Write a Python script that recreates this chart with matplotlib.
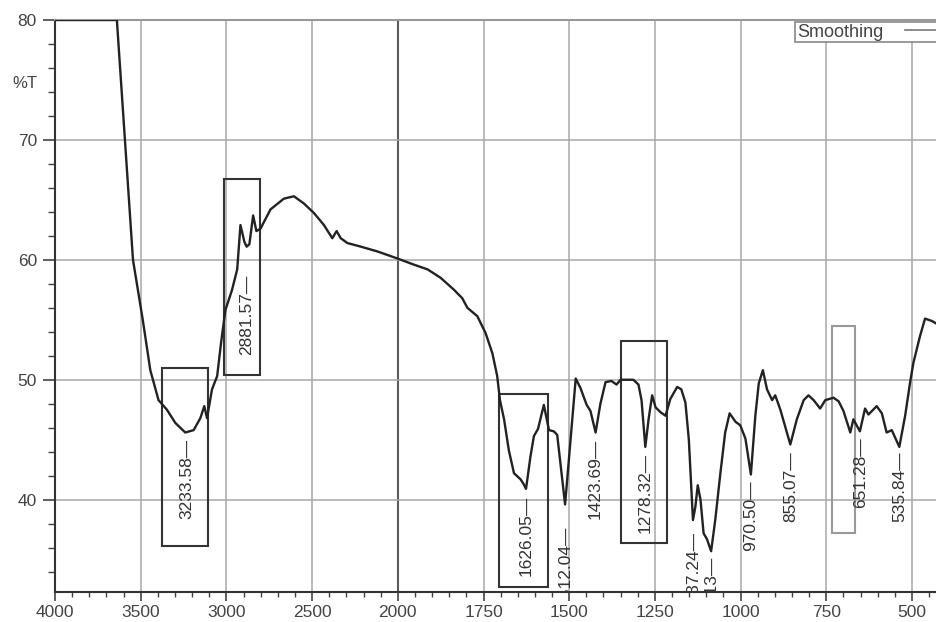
# ftir_spectrum.py
# FTIR transmittance spectrum with marked peaks

import numpy as np
import matplotlib.pyplot as plt
from matplotlib.patches import Rectangle

# -------------------------
# Data
# -------------------------
wavenumber = [
    4000, 3639, 3596, 3545, 3488, 3444, 3396, 3347, 3298, 3240, 3191, 3152,
    3129, 3113, 3084, 3054, 3031, 3006, 2967, 2937, 2918, 2895, 2882, 2866,
    2844, 2825, 2801, 2743, 2665, 2606, 2548, 2489, 2431, 2382, 2357, 2333,
    2294, 2216, 2119, 2000, 1953, 1913, 1875, 1836, 1812, 1797, 1768, 1744,
    1724, 1710, 1702, 1690, 1676, 1661, 1642, 1633, 1626, 1613, 1603, 1591,
    1574, 1559, 1545, 1535, 1512, 1496, 1481, 1467, 1449, 1438, 1423, 1409,
    1394, 1377, 1362, 1350, 1330, 1313, 1298, 1289, 1278, 1268, 1258, 1248,
    1234, 1219, 1205, 1185, 1173, 1161, 1151, 1139, 1132, 1125, 1117, 1108,
    1098, 1086, 1074, 1059, 1045, 1032, 1015, 1001, 986, 970, 957, 947,
    935, 923, 908, 899, 884, 870, 855, 836, 816, 802, 787, 768,
    753, 729, 714, 700, 680, 671, 652, 637, 627, 603, 588, 574,
    559, 537, 520, 506, 496, 477, 462, 442, 430,
]
transmittance = [
    80.0, 80.0, 70.8, 60.0, 55.0, 50.8, 48.3, 47.5, 46.4, 45.6, 45.8, 46.8,
    47.8, 46.8, 49.2, 50.3, 53.1, 55.8, 57.5, 59.2, 62.9, 61.5, 61.1, 61.3,
    63.7, 62.4, 62.6, 64.2, 65.1, 65.3, 64.7, 63.9, 62.9, 61.8, 62.4, 61.8,
    61.4, 61.1, 60.7, 60.1, 59.6, 59.2, 58.5, 57.5, 56.8, 56.0, 55.3, 53.9,
    52.2, 50.3, 48.3, 46.7, 44.1, 42.2, 41.7, 41.3, 40.9, 43.6, 45.3, 45.9,
    47.9, 45.8, 45.7, 45.4, 39.6, 45.0, 50.1, 49.3, 47.9, 47.4, 45.6, 48.0,
    49.8, 49.9, 49.6, 50.0, 50.0, 50.0, 49.6, 48.3, 44.4, 46.8, 48.7, 47.7,
    47.3, 47.0, 48.4, 49.4, 49.2, 48.1, 45.0, 38.3, 39.4, 41.2, 40.0, 37.2,
    36.7, 35.7, 38.3, 42.2, 45.6, 47.2, 46.5, 46.2, 45.1, 42.1, 47.0, 49.7,
    50.8, 49.2, 48.3, 48.7, 47.5, 46.1, 44.6, 46.7, 48.3, 48.7, 48.3, 47.6,
    48.3, 48.5, 48.2, 47.4, 45.6, 46.7, 45.7, 47.6, 47.1, 47.8, 47.2, 45.6,
    45.8, 44.4, 47.0, 49.7, 51.4, 53.6, 55.1, 54.9, 54.7,
]

peak_wn = [3233.58, 2881.57, 1626.05, 1512.04, 1423.69, 1278.32,
           1137.24, 1086.13, 970.50, 855.07, 651.28, 535.84]

# marked regions: wavenumber range and %T range
box_hi_wn = [3374, 3012, 1705, 1350, 734]
box_lo_wn = [3109, 2805, 1561, 1214, 666]
box_low_t = [36.1, 50.4, 32.7, 36.4, 37.2]
box_high_t = [51.0, 66.7, 48.8, 53.2, 54.5]

x_major = [4000, 3500, 3000, 2500, 2000, 1750, 1500, 1250, 1000, 750, 500]
y_major = [40, 50, 60, 70, 80]


# -------------------------
# x scale: 2x expanded below 2000 cm-1
# -------------------------
def fwd(x):
    x = np.asarray(x, dtype=float)
    return np.where(x >= 2000, x, 2 * x - 2000)


def inv(u):
    u = np.asarray(u, dtype=float)
    return np.where(u >= 2000, u, (u + 2000) / 2)


plt.rcParams["font.family"] = ["Liberation Sans", "DejaVu Sans"]

fig = plt.figure(figsize=(9.36, 6.22), dpi=100)
ax = fig.add_axes([55 / 936, 30 / 622, 881 / 936, 572 / 622])

ax.set_xscale("function", functions=(fwd, inv))
ax.set_xlim(4000, 430)
ax.set_ylim(32.3, 80)

ax.plot(wavenumber, transmittance, color="#222222", lw=1.7, label="Smoothing",
        zorder=4)

# grid
for xv in x_major:
    ax.axvline(xv, color="#5a5a5a" if xv == 2000 else "#a8a8a8",
               lw=1.5 if xv == 2000 else 1.1, zorder=1)
for yv in y_major:
    ax.axhline(yv, color="#a8a8a8", lw=1.1, zorder=1)

# marked regions
for i in range(len(box_hi_wn)):
    col = "#999999" if i == len(box_hi_wn) - 1 else "#333333"
    ax.add_patch(Rectangle((box_hi_wn[i], box_low_t[i]),
                           box_lo_wn[i] - box_hi_wn[i],
                           box_high_t[i] - box_low_t[i],
                           fill=False, ec=col, lw=1.5, zorder=3))

# peak labels
wn_rev = wavenumber[::-1]
t_rev = transmittance[::-1]
extra_gap = {2881.57: 15, 1512.04: 10, 1137.24: 5, 1086.13: -2}
for p in peak_wn:
    yp = np.interp(p, wn_rev, t_rev)
    ax.annotate(f"{p:.2f}\u2014", xy=(p, yp),
                xytext=(0, -5 - extra_gap.get(p, 0)),
                textcoords="offset points", rotation=90,
                ha="center", va="top", fontsize=12.5, color="#333333",
                clip_on=True, annotation_clip=False, zorder=5)

# ticks
ax.set_xticks(x_major)
ax.set_xticks(list(range(3900, 2000, -100)) + list(range(1950, 420, -50)),
              minor=True)
ax.set_yticks(y_major)
ax.set_yticks(range(34, 80, 2), minor=True)
ax.tick_params(axis="x", which="major", length=6.5, width=1.2, pad=3,
               labelsize=12.5, labelcolor="#444444", color="#444444")
ax.tick_params(axis="x", which="minor", length=3.5, width=1.0,
               color="#444444")
ax.tick_params(axis="y", which="major", length=9, width=1.2, pad=4,
               labelsize=12.5, labelcolor="#444444", color="#444444")
ax.tick_params(axis="y", which="minor", length=5, width=1.0,
               color="#444444")

for side in ["left", "bottom"]:
    ax.spines[side].set_color("#333333")
    ax.spines[side].set_linewidth(1.5)
ax.spines["top"].set_color("#999999")
ax.spines["top"].set_linewidth(1.5)
ax.spines["right"].set_visible(False)

fig.text(12 / 936, 1 - 84 / 622, "%T", fontsize=12, color="#444444",
         va="center", ha="left")

leg = ax.legend(loc="upper right", bbox_to_anchor=(1.012, 0.997),
                markerfirst=False, fancybox=False, edgecolor="#888888",
                fontsize=13, borderpad=0.1, handlelength=2.2,
                handletextpad=1.2, borderaxespad=0.0, framealpha=1)
leg.get_frame().set_linewidth(1.2)
for t in leg.get_texts():
    t.set_color("#444444")
for h in leg.get_lines():
    h.set_color("#777777")
    h.set_linewidth(1.2)

fig.savefig("out.png", dpi=100)
